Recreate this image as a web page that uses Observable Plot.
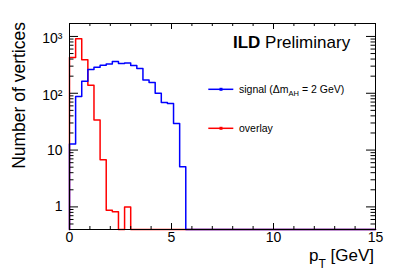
<!DOCTYPE html>
<html><head><meta charset="utf-8">
<script src="https://cdn.jsdelivr.net/npm/d3@7"></script>
<script src="https://cdn.jsdelivr.net/npm/@observablehq/plot@0.6"></script>
<style>
body{margin:0;background:#fff}
svg{font-family:"Liberation Sans",Arial,Helvetica,sans-serif}
</style>
</head><body><div id="chart"></div>
<script>
// ---- data ----
const binWidth = 0.3; // GeV
const xMax = 15;
const signalCounts = [12.8, 88, 162, 261, 286, 311, 329, 361, 333, 340, 307, 272, 172, 154, 100, 69, 66, 29.5, 5.1];
const overlayCounts = [425, 907, 390, 138, 33.8, 6.75, 0.875, 0.82, 0, 1.0];
const xMajorTicks = [0, 5, 10, 15];
const xTickLabels = ["0", "5", "10", "15"];
const xMinorTicks = [1, 2, 3, 4, 6, 7, 8, 9, 11, 12, 13, 14];
const yMajorTicks = [1, 10, 100, 1000];
const yTickLabels = ["1", "10", "10\u00b2", "10\u00b3"];
const yMinorTicks = [0.5, 0.6, 0.7, 0.8, 0.9, 2, 3, 4, 5, 6, 7, 8, 9, 20, 30, 40, 50, 60, 70, 80, 90, 200, 300, 400, 500, 600, 700, 800, 900];
const yDomain = [0.4, 1690];
const seriesNames = ["signal", "overlay"];

// ---- layout ----
const W = 407, H = 279, mL = 69, mR = 32, mT = 23, mB = 50;
const fw = W - mL - mR, fh = H - mT - mB;
const yMin = yDomain[0];

function histPoints(counts) {
  const pts = [{x: 0, y: yMin}];
  counts.forEach((c, i) => pts.push({x: i * binWidth, y: Math.max(c, yMin)}));
  pts.push({x: counts.length * binWidth, y: yMin});
  pts.push({x: xMax, y: yMin});
  return pts;
}

const yLabelTable = yMajorTicks.map((v, i) => ({v, label: yTickLabels[i], power: yTickLabels[i].length > 2}));
const xLabelTable = xMajorTicks.map((v, i) => ({v, label: xTickLabels[i]}));

const plot = Plot.plot({
  width: W, height: H,
  marginLeft: mL, marginRight: mR, marginTop: mT, marginBottom: mB,
  x: {domain: [0, xMax], axis: null},
  y: {type: "log", domain: yDomain, axis: null},
  style: {fontFamily: "Liberation Sans, Arial, sans-serif", fontSize: "14px", background: "white", color: "black"},
  marks: [
    Plot.line(histPoints(overlayCounts), {x: "x", y: "y", curve: "step-after", stroke: "#ff0000", strokeWidth: 1.5}),
    Plot.line(histPoints(signalCounts), {x: "x", y: "y", curve: "step-after", stroke: "#0000ff", strokeWidth: 1.5}),
    Plot.frame({stroke: "black", strokeWidth: 1}),
    Plot.tickX(xMajorTicks, {x: d => d, insetTop: fh - 6, stroke: "black"}),
    Plot.tickX(xMajorTicks, {x: d => d, insetBottom: fh - 6, stroke: "black"}),
    Plot.tickX(xMinorTicks, {x: d => d, insetTop: fh - 3, stroke: "black"}),
    Plot.tickX(xMinorTicks, {x: d => d, insetBottom: fh - 3, stroke: "black"}),
    Plot.tickY(yMajorTicks, {y: d => d, insetRight: fw - 9, stroke: "black"}),
    Plot.tickY(yMajorTicks, {y: d => d, insetLeft: fw - 9, stroke: "black"}),
    Plot.tickY(yMinorTicks, {y: d => d, insetRight: fw - 4.5, stroke: "black"}),
    Plot.tickY(yMinorTicks, {y: d => d, insetLeft: fw - 4.5, stroke: "black"}),
    Plot.text(xLabelTable, {x: "v", text: "label", frameAnchor: "bottom", dy: 12.5, fontSize: 14, fill: "black"}),
    Plot.text(yLabelTable.filter(d => !d.power), {y: "v", text: "label", frameAnchor: "left", dx: -7, textAnchor: "end", fontSize: 14, fill: "black"}),
    Plot.text(yLabelTable.filter(d => d.power), {y: "v", text: "label", frameAnchor: "left", dx: -7, dy: 2, textAnchor: "end", fontSize: 14, fill: "black"})
  ]
});

document.getElementById("chart").appendChild(plot);
const svg = d3.select(plot);
const ff = "Liberation Sans, Arial, sans-serif";

// Title
const t = svg.append("text").attr("x", 233).attr("y", 48.3).attr("text-anchor", "start")
  .attr("font-size", 17).attr("font-family", ff).attr("fill", "black");
t.append("tspan").attr("font-weight", "bold").text("ILD");
t.append("tspan").text(" Preliminary");

// Y axis title
svg.append("text").attr("transform", "translate(25,22) rotate(-90)").attr("text-anchor", "end")
  .attr("font-size", 17.5).attr("font-family", ff).attr("fill", "black").text("Number of vertices");

// X axis title
const xt = svg.append("text").attr("x", 374).attr("y", 261).attr("text-anchor", "end")
  .attr("font-size", 17).attr("font-family", ff).attr("fill", "black");
xt.append("tspan").text("p");
xt.append("tspan").attr("font-size", 12).attr("dy", 7).text("T");
xt.append("tspan").attr("dy", -7).text(" [GeV]");

// Legend
const legend = [
  {name: seriesNames[0], color: "#0000ff", y: 89.3},
  {name: seriesNames[1], color: "#ff0000", y: 128.3}
];
legend.forEach(l => {
  svg.append("line").attr("x1", 208.3).attr("x2", 233.3).attr("y1", l.y).attr("y2", l.y)
    .attr("stroke", l.color).attr("stroke-width", 1.5);
  svg.append("rect").attr("x", 219.5).attr("y", l.y - 1.5).attr("width", 3).attr("height", 3).attr("fill", l.color);
  const tx = svg.append("text").attr("x", 239).attr("y", l.y + 3.7).attr("text-anchor", "start")
    .attr("font-size", 10.5).attr("font-family", ff).attr("fill", "black");
  if (l.name === "signal") {
    tx.append("tspan").text("signal (\u0394m");
    tx.append("tspan").attr("font-size", 7.5).attr("dy", 2.5).text("AH");
    tx.append("tspan").attr("dy", -2.5).text(" = 2 GeV)");
  } else {
    tx.text(l.name);
  }
});
</script>
</body></html>
